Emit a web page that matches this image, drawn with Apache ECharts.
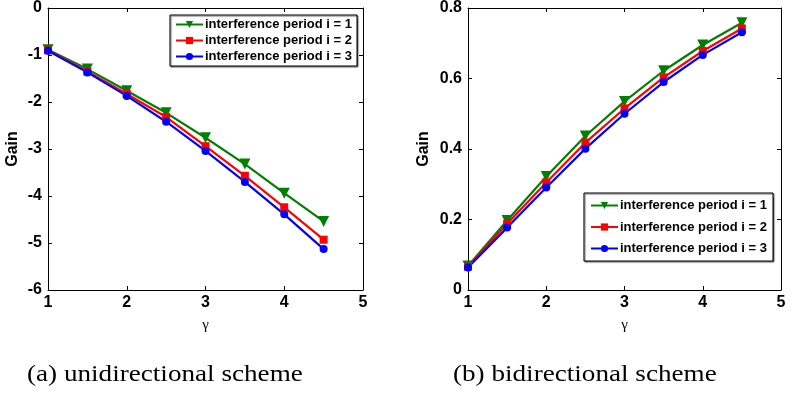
<!DOCTYPE html>
<html><head><meta charset="utf-8">
<script src="https://cdn.jsdelivr.net/npm/echarts@6/dist/echarts.min.js"></script>
<style>html,body{margin:0;padding:0;background:#fff}#c{width:791px;height:396px}</style>
</head><body><div id="c"></div>
<script>
const gamma = [1, 1.5, 2, 2.5, 3, 3.5, 4, 4.5];
const seriesNames = ['interference period i = 1', 'interference period i = 2', 'interference period i = 3'];
const uniI1 = [-0.89, -1.30, -1.76, -2.23, -2.76, -3.32, -3.94, -4.54];
const uniI2 = [-0.90, -1.35, -1.83, -2.32, -2.94, -3.57, -4.24, -4.93];
const uniI3 = [-0.91, -1.37, -1.87, -2.42, -3.04, -3.70, -4.39, -5.13];
const biI1 = [0.068, 0.197, 0.322, 0.437, 0.535, 0.622, 0.695, 0.758];
const biI2 = [0.066, 0.188, 0.305, 0.418, 0.515, 0.603, 0.678, 0.742];
const biI3 = [0.064, 0.177, 0.291, 0.401, 0.500, 0.590, 0.667, 0.731];
const captions = ['(a) unidirectional scheme', '(b) bidirectional scheme'];

const colors = ['#008000', '#ff0000', '#0000ff'];
const symbols = ['path://M0,0 L10,0 L5,9 Z', 'rect', 'circle'];
const font = 'Liberation Sans, Arial, sans-serif';
const pair = v => gamma.map((g, i) => [g, v[i]]);

function xAx(gi, show) {
  return {
    type: 'value', gridIndex: gi, min: 1, max: 5, interval: 1,
    position: show ? 'bottom' : 'top',
    name: show ? 'γ' : '', nameLocation: 'middle', nameGap: 28,
    nameTextStyle: {fontFamily: 'Liberation Serif, serif', fontSize: 15, color: '#000'},
    axisLine: {show: true, onZero: false, lineStyle: {color: '#000', width: 1}},
    axisTick: {show: true, inside: true, length: 4, lineStyle: {color: '#000'}},
    axisLabel: {show: show, color: '#000', fontWeight: 'bold', fontSize: 16, fontFamily: font, margin: 5},
    splitLine: {show: false}
  };
}
function yAx(gi, show, min, max, interval, gap) {
  return {
    type: 'value', gridIndex: gi, min: min, max: max, interval: interval,
    position: show ? 'left' : 'right',
    name: show ? 'Gain' : '', nameLocation: 'middle', nameGap: gap,
    nameTextStyle: {fontFamily: font, fontSize: 16, fontWeight: 'bold', color: '#000'},
    axisLine: {show: true, onZero: false, lineStyle: {color: '#000', width: 1}},
    axisTick: {show: true, inside: true, length: 4, lineStyle: {color: '#000'}},
    axisLabel: {show: show, color: '#000', fontWeight: 'bold', fontSize: 16, fontFamily: font, margin: 6},
    splitLine: {show: false}
  };
}
function mk(name, data, k, gi) {
  return {
    name: name, type: 'line', xAxisIndex: gi * 2, yAxisIndex: gi * 2,
    data: pair(data), symbol: symbols[k], symbolSize: k === 0 ? 11 : 8,
    lineStyle: {color: colors[k], width: 2.2}, itemStyle: {color: colors[k]},
    animation: false
  };
}
const legendBase = {
  orient: 'vertical', data: seriesNames, itemWidth: 27, itemHeight: 9,
  backgroundColor: '#fff', borderColor: '#000', borderWidth: 1,
  shadowColor: 'rgba(0,0,0,0.6)', shadowOffsetX: 1, shadowOffsetY: 1, shadowBlur: 1,
  textStyle: {fontFamily: font, fontSize: 13, fontWeight: 'bold', color: '#000', padding: [0,0,0,-3]},
  selectedMode: false
};
const capFont = '23px "Liberation Serif", serif';
const chart = echarts.init(document.getElementById('c'), null, {renderer: 'canvas'});
chart.setOption({
  animation: false,
  grid: [
    {left: 48, top: 6, width: 315, height: 284},
    {left: 468, top: 6, width: 313, height: 284}
  ],
  xAxis: [xAx(0, true), xAx(0, false), xAx(1, true), xAx(1, false)],
  yAxis: [yAx(0, true, -6, 0, 1, 27), yAx(0, false, -6, 0, 1, 0),
          yAx(1, true, 0, 0.8, 0.2, 36), yAx(1, false, 0, 0.8, 0.2, 0)],
  legend: [
    Object.assign({}, legendBase, {right: 434, top: 15, itemGap: 3, padding: [3, 5, 3, 5]}),
    Object.assign({}, legendBase, {right: 18, top: 193, itemGap: 8.5, padding: [6, 6, 6, 6]})
  ],
  series: [
    mk(seriesNames[0], uniI1, 0, 0), mk(seriesNames[1], uniI2, 1, 0), mk(seriesNames[2], uniI3, 2, 0),
    mk(seriesNames[0], biI1, 0, 1), mk(seriesNames[1], biI2, 1, 1), mk(seriesNames[2], biI3, 2, 1)
  ],
  graphic: [
    {type: 'text', x: 27, y: 363, scaleX: 1.18, style: {text: captions[0], font: capFont, fill: '#000', textVerticalAlign: 'top'}},
    {type: 'text', x: 453, y: 363, scaleX: 1.18, style: {text: captions[1], font: capFont, fill: '#000', textVerticalAlign: 'top'}}
  ]
});
</script></body></html>
